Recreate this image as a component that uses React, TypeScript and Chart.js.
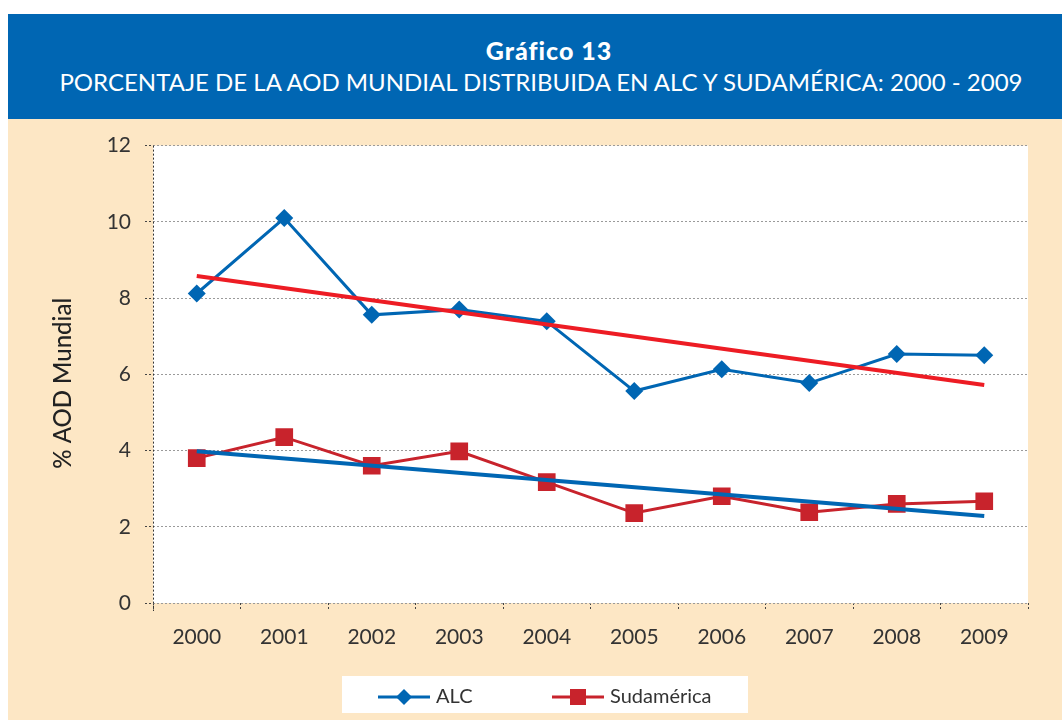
import React, { useEffect, useRef } from "react";
import { Chart, registerables } from "chart.js";

Chart.register(...registerables);

const years = ["2000", "2001", "2002", "2003", "2004", "2005", "2006", "2007", "2008", "2009"];
const alcValues = [8.12, 10.1, 7.56, 7.7, 7.39, 5.56, 6.13, 5.77, 6.53, 6.5];
const sudValues = [3.8, 4.35, 3.6, 3.98, 3.17, 2.36, 2.8, 2.38, 2.6, 2.67];
const alcTrend = [8.58, null, null, null, null, null, null, null, null, 5.72];
const sudTrend = [3.98, null, null, null, null, null, null, null, null, 2.28];
const yTicks = [0, 2, 4, 6, 8, 10, 12];

const titleLine1 = "Gráfico 13";
const titleLine2 = "PORCENTAJE DE LA AOD MUNDIAL DISTRIBUIDA EN ALC Y SUDAMÉRICA: 2000 - 2009";
const yTitle = "% AOD Mundial";
const legendLabels = ["ALC", "Sudamérica"];

const BLUE = "#0066b3";
const DARK_RED = "#c8232c";
const RED = "#ed1c24";
const FONT = "Lato, 'DejaVu Sans', sans-serif";

const extrasPlugin = {
  id: "extras",
  beforeDraw(chart: any) {
    const { ctx, chartArea } = chart;
    ctx.save();
    ctx.fillStyle = "#ffffff";
    ctx.fillRect(chartArea.left, chartArea.top, chartArea.right - chartArea.left, chartArea.bottom - chartArea.top);
    ctx.restore();
  },
  beforeDatasetsDraw(chart: any) {
    const { ctx, chartArea } = chart;
    ctx.save();
    ctx.strokeStyle = "#333";
    ctx.lineWidth = 1;
    ctx.setLineDash([2, 2]);
    ctx.beginPath();
    ctx.moveTo(chartArea.left + 0.5, chartArea.top);
    ctx.lineTo(chartArea.left + 0.5, chartArea.bottom + 8);
    ctx.stroke();
    ctx.restore();
  },
  afterDraw(chart: any) {
    const { ctx, chartArea } = chart;
    ctx.save();
    ctx.fillStyle = "#222";
    ctx.font = `500 24px ${FONT}`;
    ctx.textAlign = "center";
    ctx.textBaseline = "middle";
    ctx.translate(55, (chartArea.top + chartArea.bottom) / 2 + 9);
    ctx.rotate(-Math.PI / 2);
    ctx.fillText(yTitle, 0, 0);
    ctx.restore();

    ctx.save();
    const bx = 334, by = 557, bw = 406, bh = 37;
    ctx.fillStyle = "#ffffff";
    ctx.fillRect(bx, by, bw, bh);
    const cy = by + 21;
    const items = [
      { x: 370, color: BLUE, shape: "diamond", label: legendLabels[0] },
      { x: 544, color: DARK_RED, shape: "square", label: legendLabels[1] },
    ];
    items.forEach((it) => {
      ctx.strokeStyle = it.color;
      ctx.lineWidth = 3;
      ctx.beginPath();
      ctx.moveTo(it.x, cy);
      ctx.lineTo(it.x + 52, cy);
      ctx.stroke();
      ctx.fillStyle = it.color;
      const mx = it.x + 26;
      if (it.shape === "diamond") {
        ctx.beginPath();
        ctx.moveTo(mx, cy - 8);
        ctx.lineTo(mx + 8, cy);
        ctx.lineTo(mx, cy + 8);
        ctx.lineTo(mx - 8, cy);
        ctx.closePath();
        ctx.fill();
      } else {
        ctx.fillRect(mx - 8, cy - 8, 16, 16);
      }
      ctx.fillStyle = "#333";
      ctx.font = `20px ${FONT}`;
      ctx.textAlign = "left";
      ctx.textBaseline = "middle";
      ctx.fillText(it.label, it.x + 58, cy);
    });
    ctx.restore();
  },
};

export default function App() {
  const ref = useRef<HTMLCanvasElement | null>(null);

  useEffect(() => {
    if (!ref.current) return;
    const chart = new Chart(ref.current, {
      type: "line",
      data: {
        labels: years,
        datasets: [
          {
            label: "Tendencia ALC",
            data: alcTrend,
            borderColor: RED,
            borderWidth: 4,
            pointRadius: 0,
            spanGaps: true,
            order: 0,
          },
          {
            label: "Tendencia Sudamérica",
            data: sudTrend,
            borderColor: BLUE,
            borderWidth: 4,
            pointRadius: 0,
            spanGaps: true,
            order: 0,
          },
          {
            label: legendLabels[0],
            data: alcValues,
            borderColor: BLUE,
            backgroundColor: BLUE,
            borderWidth: 3,
            pointStyle: "rectRot",
            pointRadius: 9,
            pointBorderWidth: 0,
            order: 1,
          },
          {
            label: legendLabels[1],
            data: sudValues,
            borderColor: DARK_RED,
            backgroundColor: DARK_RED,
            borderWidth: 3,
            pointStyle: "rect",
            pointRadius: 12.5,
            pointBorderWidth: 0,
            order: 1,
          },
        ],
      },
      options: {
        responsive: false,
        animation: false,
        layout: { padding: { top: 26, right: 34, left: 0, bottom: 0 } },
        plugins: {
          legend: { display: false },
          tooltip: { enabled: false },
          title: { display: false },
        },
        scales: {
          x: {
            type: "category",
            offset: true,
            border: { display: false },
            grid: {
              offset: true,
              drawOnChartArea: false,
              drawTicks: true,
              tickLength: 8,
              tickColor: "#444",
              tickBorderDash: [2, 2],
            },
            ticks: {
              color: "#333",
              font: { family: FONT, size: 21 },
              padding: 14,
              maxRotation: 0,
            },
            afterFit: (s: any) => {
              s.height = 117;
            },
          },
          y: {
            min: 0,
            max: 12,
            afterBuildTicks: (s: any) => {
              s.ticks = yTicks.map((v) => ({ value: v }));
            },
            border: { display: false, dash: [2, 2] },
            grid: {
              color: "#9a9a9a",
              lineWidth: 1,
              tickLength: 8,
              tickColor: "#444",
              tickBorderDash: [2, 2],
            },
            ticks: {
              color: "#333",
              font: { family: FONT, size: 21 },
              padding: 14,
            },
            afterFit: (s: any) => {
              s.width = 145;
            },
          },
        },
      },
      plugins: [extrasPlugin],
    });
    return () => chart.destroy();
  }, []);

  return (
    <div style={{ position: "fixed", left: 0, top: 0, width: 1062, height: 720, background: "#ffffff", overflow: "hidden" }}>
      <div
        style={{
          position: "absolute",
          left: 8,
          top: 14,
          width: 1054,
          height: 105,
          background: BLUE,
          color: "#ffffff",
          fontFamily: FONT,
          textAlign: "center",
        }}
      >
        <div style={{ position: "absolute", left: 0, width: 1082, top: 21, fontSize: 25, fontWeight: 900, letterSpacing: 1, lineHeight: "30px" }}>
          {titleLine1}
        </div>
        <div style={{ position: "absolute", left: 0, width: 1066, top: 54, fontSize: 24, lineHeight: "28px", whiteSpace: "nowrap" }}>
          {titleLine2}
        </div>
      </div>
      <div style={{ position: "absolute", left: 8, top: 119, width: 1054, height: 601, background: "#fde7c5" }}>
        <canvas ref={ref} width={1054} height={601} style={{ display: "block", width: 1054, height: 601 }} />
      </div>
    </div>
  );
}
